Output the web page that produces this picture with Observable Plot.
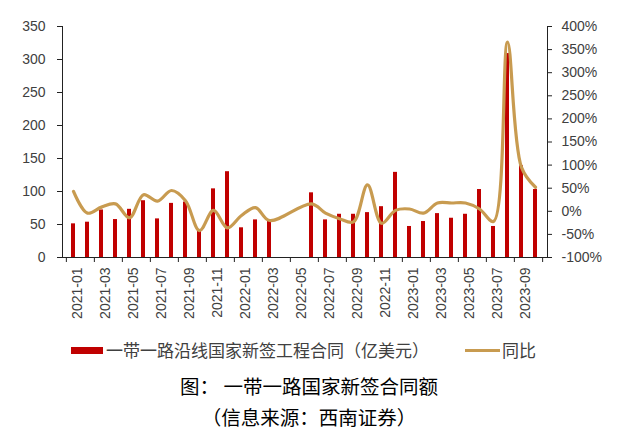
<!DOCTYPE html>
<html>
<head>
<meta charset="utf-8">
<script src="https://cdn.jsdelivr.net/npm/d3@7"></script>
<script src="https://cdn.jsdelivr.net/npm/@observablehq/plot@0.6"></script>
<style>
  body { margin: 0; background: #fff; }
  #wrap { position: relative; width: 623px; height: 442px; font-family: "Liberation Sans", "Noto Sans CJK SC", sans-serif; }
  #chart { position: absolute; left: 0; top: 0; }
  .cjk { font-family: "Noto Sans CJK SC", "Liberation Sans", sans-serif; position: absolute; white-space: nowrap; }
  .swatch { position: absolute; }
</style>
</head>
<body>
<div id="wrap">
  <div id="chart"></div>
  <div class="swatch" style="left:71px;top:346.5px;width:32px;height:7px;background:#C00000;"></div>
  <div class="cjk" style="left:106px;top:338px;font-size:17px;line-height:24px;color:#404040;">一带一路沿线国家新签工程合同（亿美元）</div>
  <div class="swatch" style="left:465px;top:348.5px;width:35px;height:3px;background:#C89B50;"></div>
  <div class="cjk" style="left:502px;top:338px;font-size:17px;line-height:24px;color:#404040;">同比</div>
  <div class="cjk" style="left:0;width:618px;text-align:center;top:372px;font-size:19.5px;line-height:28px;color:#000;">图： 一带一路国家新签合同额</div>
  <div class="cjk" style="left:0;width:618px;text-align:center;top:403px;font-size:19.5px;line-height:28px;color:#000;">（信息来源：西南证券）</div>
</div>
<script>
const months = [
  "2021-01","2021-02","2021-03","2021-04","2021-05","2021-06","2021-07","2021-08","2021-09","2021-10","2021-11","2021-12",
  "2022-01","2022-02","2022-03","2022-04","2022-05","2022-06","2022-07","2022-08","2022-09","2022-10","2022-11","2022-12",
  "2023-01","2023-02","2023-03","2023-04","2023-05","2023-06","2023-07","2023-08","2023-09","2023-10"
];
// 一带一路沿线国家新签工程合同（亿美元）
const contracts = [
  51, 53.5, 72, 57.5, 73, 86, 58.5, 82, 84, 40, 104, 130,
  45, 57, 56, null, null, 98, 57, 65.5, 65.5, 68, 77, 129,
  47, 54.5, 66.5, 59.5, 65.5, 103, 47, 309, 139, 103
];
// 同比 (%)
const yoy = [
  43, -4, 9, 16, -14, 36, 22, 45, 23, -42, 2, -36,
  -9, 8, -20, null, null, 16, -4, -16, -23, 57, -26, 2,
  5, -4, 18, 18, 18, 5, -22, 366, 95, 52
];
const leftTicks = [0, 50, 100, 150, 200, 250, 300, 350];
const rightTicks = [-100, -50, 0, 50, 100, 150, 200, 250, 300, 350, 400];
const labelMonths = months.filter((m, i) => i % 2 === 0);

// map the right-axis percentage onto the left-axis domain [0, 350]
const toLeft = p => (p + 100) * 350 / 500;
const fromLeft = v => Math.round(v * 500 / 350 - 100);

const barData = months.map((m, i) => ({month: m, value: contracts[i]})).filter(d => d.value != null);
const lineData = months.map((m, i) => ({month: m, yoy: yoy[i]})).filter(d => d.yoy != null);

const W = 623, mL = 62, mR = 76;
const half = (W - mL - mR) / months.length / 2;

const chart = Plot.plot({
  width: W,
  height: 325,
  marginTop: 26,
  marginBottom: 68,
  marginLeft: mL,
  marginRight: mR,
  style: {fontFamily: "Liberation Sans, Arial, sans-serif", fontSize: "14px", color: "#404040", background: "transparent"},
  x: {type: "band", domain: months, paddingInner: 0.68, paddingOuter: 0.34, align: 0.5, axis: null},
  y: {domain: [0, 350], axis: null},
  marks: [
    Plot.barY(barData, {x: "month", y: "value", fill: "#C00000"}),
    Plot.line(lineData, {x: "month", y: d => toLeft(d.yoy), curve: "catmull-rom", stroke: "#C89B50", strokeWidth: 3.2, strokeLinejoin: "round", strokeLinecap: "round"}),
    Plot.axisY({anchor: "left", ticks: leftTicks, tickSize: 5, tickPadding: 12, label: null, stroke: "#222", fill: "#404040"}),
    Plot.axisY({anchor: "right", ticks: rightTicks.map(toLeft), tickFormat: v => fromLeft(v) + "%", tickSize: 4, tickPadding: 10, label: null, stroke: "#222", fill: "#404040"}),
    Plot.axisX({anchor: "bottom", ticks: labelMonths, tickFormat: () => "", tickSize: 5, dx: -half, label: null, stroke: "#222"}),
    Plot.axisX({anchor: "bottom", ticks: [months[months.length - 1]], tickFormat: () => "", tickSize: 5, dx: half, label: null, stroke: "#222"}),
    Plot.axisX({anchor: "bottom", ticks: labelMonths, tickSize: 0, tickPadding: 10, tickRotate: -90, dx: 4, label: null, fill: "#404040"}),
    Plot.frame({anchor: "left", stroke: "#222"}),
    Plot.frame({anchor: "right", stroke: "#222"}),
    Plot.frame({anchor: "bottom", stroke: "#222"})
  ]
});
document.getElementById("chart").appendChild(chart);
</script>
</body>
</html>
